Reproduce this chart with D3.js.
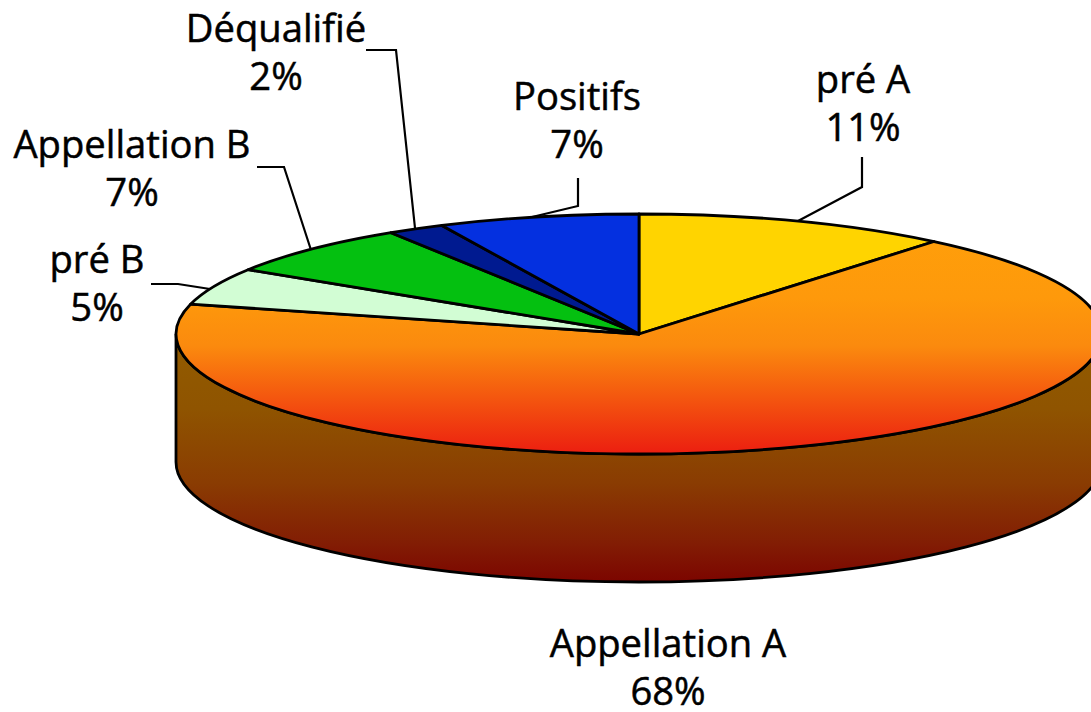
<!DOCTYPE html>
<html>
<head>
<meta charset="utf-8">
<style>
  html, body { margin: 0; background: #fff; overflow: hidden; }
  text { font-family: "Open Sans", sans-serif; font-size: 38.2px; fill: #000; stroke: #000; stroke-width: 0.5px; text-anchor: middle; }
</style>
<script src="https://cdn.jsdelivr.net/npm/d3@7"></script>
</head>
<body>
<div id="chart"></div>
<script>
const categories = ["pré A", "Appellation A", "pré B", "Appellation B", "Déqualifié", "Positifs"];
const shares = [11, 68, 5, 7, 2, 7];
const sliceColors = ["#ffd400", "url(#topOrange)", "#d2fdd4", "#04c010", "#001a90", "#0430e0"];

// where each label sits and how its leader runs to the pie
const labelPlaces = [
  { x: 863, y: 93, leader: [[862, 157], [862, 187], [798, 221]] },
  { x: 668, y: 657, leader: null },
  { x: 97, y: 273, leader: [[151, 284], [178, 284], [210, 289]] },
  { x: 132, y: 158, leader: [[257, 167], [284, 167], [311, 250]] },
  { x: 276, y: 42, leader: [[366, 50], [396, 50], [415, 228]] },
  { x: 577, y: 110, leader: [[578, 178], [578, 206], [532, 217]] }
];

const width = 1091;
const height = 712;
const cx = 639;
const cy = 334;
const rx = 463;
const ry = 120;
const depth = 128;

const svg = d3.select("#chart")
  .append("svg")
  .attr("width", width)
  .attr("height", height)
  .attr("viewBox", [0, 0, width, height])
  .style("display", "block");

const defs = svg.append("defs");

function addGradient(id, stops, y1, y2) {
  defs.append("linearGradient")
    .attr("id", id)
    .attr("gradientUnits", "userSpaceOnUse")
    .attr("x1", 0).attr("x2", 0)
    .attr("y1", y1).attr("y2", y2)
    .selectAll("stop")
    .data(stops)
    .join("stop")
    .attr("offset", (d) => d[0])
    .attr("stop-color", (d) => d[1]);
}

// top gradient is in the flattened slice space, so y is divided by the squash
const squash = ry / rx;
addGradient("topOrange", [[0, "#ffa00a"], [0.35, "#fe990b"], [0.55, "#fb8a0e"], [1, "#ec1e10"]], -120 / squash, 120 / squash);
addGradient("wallBrown", [[0, "#925c00"], [0.3, "#8f5400"], [0.6, "#8a3c02"], [0.85, "#821c04"], [1, "#7c0500"]], cy, cy + ry + depth);

// outer wall: the front half of the disc pushed down
svg.append("path")
  .attr("d", `M${cx - rx},${cy} V${cy + depth} A${rx},${ry} 0 0 0 ${cx + rx},${cy + depth} V${cy} A${rx},${ry} 0 0 1 ${cx - rx},${cy} Z`)
  .attr("fill", "url(#wallBrown)")
  .attr("stroke", "#000")
  .attr("stroke-width", 2.8);

const pie = d3.pie().sort(null).value((d) => d);
const arc = d3.arc().innerRadius(0).outerRadius(rx);

svg.append("g")
  .attr("transform", `translate(${cx},${cy}) scale(1,${squash})`)
  .selectAll("path")
  .data(pie(shares))
  .join("path")
  .attr("d", arc)
  .attr("fill", (d, i) => sliceColors[i])
  .attr("stroke", "#000")
  .attr("stroke-width", 2.8)
  .attr("stroke-linejoin", "round")
  .attr("vector-effect", "non-scaling-stroke");

// leaders
const line = d3.line();
svg.append("g")
  .selectAll("path")
  .data(labelPlaces.filter((d) => d.leader))
  .join("path")
  .attr("d", (d) => line(d.leader))
  .attr("fill", "none")
  .attr("stroke", "#000")
  .attr("stroke-width", 2.2);

// labels, name over percentage
const labels = svg.append("g")
  .selectAll("text")
  .data(categories)
  .join("text")
  .attr("transform", (d, i) => `translate(${labelPlaces[i].x},${labelPlaces[i].y})`);

labels.append("tspan").attr("x", 0).attr("y", 0).text((d) => d);
labels.append("tspan").attr("x", 0).attr("y", 48).text((d, i) => `${shares[i]}%`);
</script>
</body>
</html>
